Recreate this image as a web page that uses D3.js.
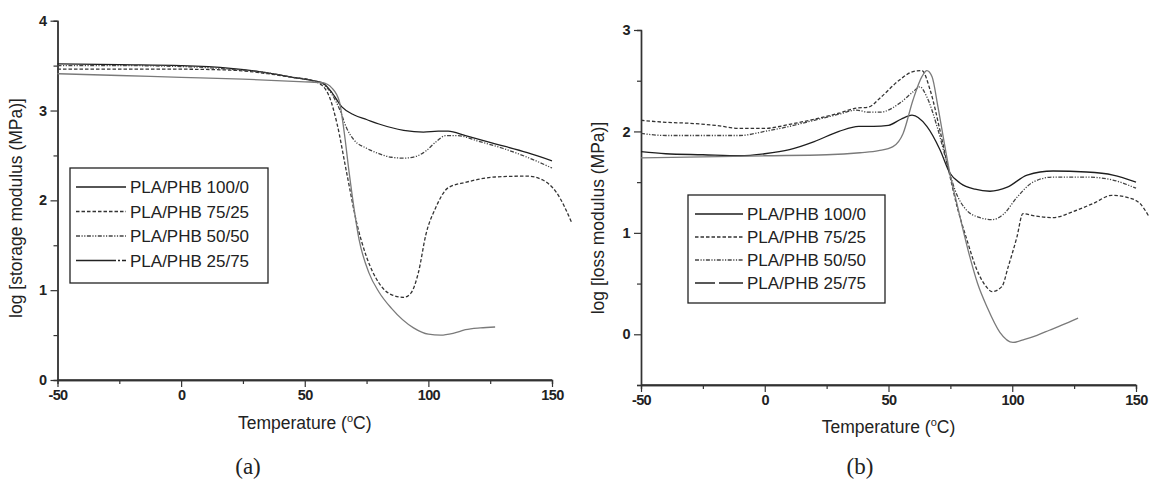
<!DOCTYPE html>
<html>
<head>
<meta charset="utf-8">
<script src="https://cdn.jsdelivr.net/npm/d3@7"></script>
<style>
  body { margin: 0; background: #fff; }
  svg text { font-family: "Liberation Sans", Arial, sans-serif; fill: #222; }
</style>
</head>
<body>
<div class="dma"></div>
<script>
// ---- data: [temperature °C, log value] ----
const seriesNames = ["PLA/PHB 100/0", "PLA/PHB 75/25", "PLA/PHB 50/50", "PLA/PHB 25/75"]
const xTicks = [-50, 0, 50, 100, 150]
const xMinorTicks = [-25, 25, 75, 125]
const storageTicks = [0, 1, 2, 3, 4]
const storageMinor = [0.5, 1.5, 2.5, 3.5]
const lossTicks = [0, 1, 2, 3]
const lossMinor = [-0.5, 0.5, 1.5, 2.5]

// (a) storage modulus
const storage100 = [[-50, 3.52], [-25, 3.51], [0, 3.50], [20, 3.47], [35, 3.42], [45, 3.37], [52, 3.34], [57, 3.31], [61, 3.20], [65, 3.04], [70, 2.95], [75, 2.90], [80, 2.85], [90, 2.78], [98, 2.76], [104, 2.77], [108, 2.77], [115, 2.72], [127, 2.63], [140, 2.53], [150, 2.44]]
const storage75 = [[-50, 3.46], [-25, 3.46], [0, 3.46], [20, 3.45], [35, 3.41], [45, 3.37], [52, 3.34], [57, 3.28], [60, 3.15], [63, 2.86], [67, 2.30], [71, 1.75], [75, 1.37], [80, 1.08], [85, 0.95], [90, 0.92], [93, 0.97], [96, 1.20], [99, 1.62], [103, 1.92], [108, 2.14], [115, 2.20], [127, 2.26], [140, 2.27], [146, 2.23], [152, 2.08], [158, 1.75]]
const storage50 = [[-50, 3.50], [-25, 3.50], [0, 3.49], [20, 3.46], [35, 3.42], [45, 3.37], [52, 3.34], [57, 3.30], [61, 3.18], [64, 3.02], [67, 2.80], [70, 2.67], [75, 2.58], [80, 2.52], [85, 2.48], [90, 2.47], [95, 2.49], [99, 2.55], [103, 2.65], [107, 2.72], [112, 2.72], [120, 2.66], [130, 2.58], [140, 2.48], [150, 2.36]]
const storage25 = [[-50, 3.41], [-25, 3.39], [0, 3.37], [25, 3.35], [50, 3.32], [57, 3.31], [61, 3.25], [64, 3.10], [66, 2.75], [68, 2.30], [72, 1.56], [76, 1.19], [80, 0.98], [85, 0.80], [94, 0.58], [100, 0.51], [105, 0.50], [110, 0.52], [115, 0.56], [121, 0.58], [127, 0.59]]

// (b) loss modulus
const loss100 = [[-50, 1.80], [-40, 1.78], [-25, 1.77], [-10, 1.76], [0, 1.78], [10, 1.82], [20, 1.90], [30, 2.00], [38, 2.05], [44, 2.05], [50, 2.06], [55, 2.12], [59.5, 2.16], [65.5, 2.05], [70.8, 1.82], [74.8, 1.59], [79, 1.49], [85, 1.43], [91, 1.41], [98, 1.45], [106, 1.57], [116.5, 1.61], [130, 1.60], [140.7, 1.57], [150, 1.50]]
const loss75 = [[-50, 2.11], [-40, 2.09], [-30, 2.08], [-20, 2.06], [-10, 2.03], [0, 2.03], [10, 2.07], [20, 2.12], [30, 2.18], [37, 2.23], [42, 2.24], [46.6, 2.33], [54.6, 2.51], [59.9, 2.59], [63.5, 2.60], [66.8, 2.41], [70.8, 2.01], [74, 1.65], [77.7, 1.26], [81.7, 0.93], [85.8, 0.63], [89.8, 0.46], [91.8, 0.42], [95.8, 0.47], [98.3, 0.66], [101.9, 0.96], [104.3, 1.19], [108.4, 1.17], [116.5, 1.15], [124.6, 1.21], [132.7, 1.29], [140.3, 1.37], [146.4, 1.35], [151.6, 1.29], [155, 1.17]]
const loss50 = [[-50, 1.98], [-40, 1.96], [-25, 1.96], [-10, 1.96], [0, 2.00], [10, 2.05], [20, 2.11], [30, 2.17], [37, 2.21], [42, 2.19], [46.6, 2.19], [54.6, 2.28], [59.9, 2.39], [62.7, 2.44], [65.5, 2.34], [69.6, 2.05], [73.6, 1.69], [76.9, 1.42], [81.7, 1.22], [87, 1.15], [91.8, 1.13], [96.3, 1.18], [101.9, 1.35], [108.4, 1.50], [116.5, 1.55], [130, 1.55], [140.7, 1.52], [150, 1.44]]
const loss25 = [[-50, 1.74], [-25, 1.75], [0, 1.76], [25, 1.77], [38.5, 1.79], [46, 1.81], [51.8, 1.85], [55.9, 1.98], [59.9, 2.31], [63.5, 2.54], [65.5, 2.60], [67.6, 2.54], [70, 2.24], [72.8, 1.85], [74.8, 1.59], [78, 1.25], [82.9, 0.76], [86, 0.50], [89.8, 0.27], [95, 0.02], [100.3, -0.08], [105, -0.05], [110, -0.01], [115, 0.04], [120, 0.09], [126.6, 0.16]]

let styles = [
    { color: "#1e1e1e", dash: null },
    { color: "#333", dash: "3.5 2" },
    { color: "#444", dash: "4 1.5 1.2 1.5 1.2 1.5" },
    { color: "#7a7a7a", dash: null }
]

let svg = d3.select(".dma")
    .append("svg")
    .attr("width", 1150)
    .attr("height", 494)

function drawPanel(cfg) {
    let x = d3.scaleLinear().domain([-50, 150]).range([cfg.left, cfg.right])
    let y = d3.scaleLinear().domain(cfg.yDomain).range([cfg.bottom, cfg.top])
    let g = svg.append("g")

    // minor ticks first, then major ticks with labels
    g.append("g")
        .attr("transform", `translate(0,${cfg.bottom})`)
        .call(d3.axisBottom(x).tickValues(xMinorTicks).tickSize(4).tickFormat(""))
    g.append("g")
        .attr("transform", `translate(${cfg.left},0)`)
        .call(d3.axisLeft(y).tickValues(cfg.yMinor).tickSize(4).tickFormat(""))
    g.append("g")
        .attr("transform", `translate(0,${cfg.bottom})`)
        .call(d3.axisBottom(x).tickValues(xTicks).tickSize(7).tickSizeOuter(0).tickPadding(3).tickFormat(d => String(d)))
    g.append("g")
        .attr("transform", `translate(${cfg.left},0)`)
        .call(d3.axisLeft(y).tickValues(cfg.yTicks).tickSize(7).tickSizeOuter(0).tickPadding(4).tickFormat(d => String(d)))
    g.selectAll(".domain").attr("stroke", "#333").attr("stroke-width", 1.4)
    g.selectAll(".tick line").attr("stroke", "#333").attr("stroke-width", 1.2)
    g.selectAll(".tick text")
        .attr("font-size", 14.5)
        .attr("font-weight", "bold")
        .attr("letter-spacing", -0.6)
        .attr("fill", "#1a1a1a")
    g.append("path")
        .attr("stroke", "#333").attr("stroke-width", 1.4)
        .attr("d", `M${cfg.left},${cfg.bottom} H${cfg.right}`)

    // curves
    let line = d3.line()
        .x(d => x(d[0]))
        .y(d => y(d[1]))
        .curve(d3.curveMonotoneX)
    cfg.series.forEach((s, i) => {
        g.append("path")
            .datum(s)
            .attr("fill", "none")
            .attr("stroke", styles[i].color)
            .attr("stroke-width", 1.3)
            .attr("stroke-dasharray", styles[i].dash)
            .attr("d", line)
    })

    // axis titles
    let xt = g.append("text")
        .attr("x", (cfg.left + cfg.right) / 2)
        .attr("y", cfg.xTitleY)
        .attr("text-anchor", "middle")
        .attr("font-size", 17.5)
    xt.append("tspan").text("Temperature (")
    xt.append("tspan").attr("dy", -7).attr("font-size", 11).text("o")
    xt.append("tspan").attr("dy", 7).text("C)")
    g.append("text")
        .attr("transform", `translate(${cfg.yTitleX},${cfg.yTitleY}) rotate(-90)`)
        .attr("text-anchor", "middle")
        .attr("font-size", 17.5)
        .text(cfg.yTitle)

    // legend
    let lg = g.append("g").attr("transform", `translate(${cfg.legend.x},${cfg.legend.y})`)
    lg.append("rect")
        .attr("width", cfg.legend.w)
        .attr("height", cfg.legend.h)
        .attr("fill", "#fff")
        .attr("stroke", "#222")
        .attr("stroke-width", 1.3)
    seriesNames.forEach((name, i) => {
        let yy = cfg.legend.first + i * cfg.legend.step
        lg.append("path")
            .attr("stroke", i == 3 ? "#222" : styles[i].color)
            .attr("stroke-width", 1.3)
            .attr("stroke-dasharray", i == 3 ? cfg.legend.dash25 : styles[i].dash)
            .attr("d", `M${cfg.legend.lineX1},${yy} H${cfg.legend.lineX2}`)
        lg.append("text")
            .attr("x", cfg.legend.textX)
            .attr("y", yy + 6)
            .attr("font-size", 17)
            .text(name)
    })

    // panel label
    svg.append("text")
        .attr("x", cfg.labelX)
        .attr("y", 474)
        .attr("text-anchor", "middle")
        .attr("font-size", 23)
        .style("font-family", "'Liberation Serif', 'Times New Roman', serif")
        .text(cfg.label)
}

drawPanel({
    left: 57.5, right: 552, top: 20.7, bottom: 380,
    yDomain: [0, 4], yTicks: storageTicks, yMinor: storageMinor,
    series: [storage100, storage75, storage50, storage25],
    xTitleY: 429, yTitleX: 22, yTitleY: 208, yTitle: "log [storage modulus (MPa)]",
    legend: { x: 70, y: 168, w: 198, h: 115, first: 19, step: 24.5, lineX1: 6, lineX2: 56, textX: 60, dash25: "40 2 2 2" },
    label: "(a)", labelX: 248
})
drawPanel({
    left: 641, right: 1136, top: 30, bottom: 385,
    yDomain: [-0.5, 3], yTicks: lossTicks, yMinor: lossMinor,
    series: [loss100, loss75, loss50, loss25],
    xTitleY: 433, yTitleX: 604, yTitleY: 218, yTitle: "log [loss modulus (MPa)]",
    legend: { x: 688, y: 195, w: 197, h: 108, first: 19, step: 23, lineX1: 7, lineX2: 55, textX: 59, dash25: "20 4 30" },
    label: "(b)", labelX: 860
})
</script>
</body>
</html>
